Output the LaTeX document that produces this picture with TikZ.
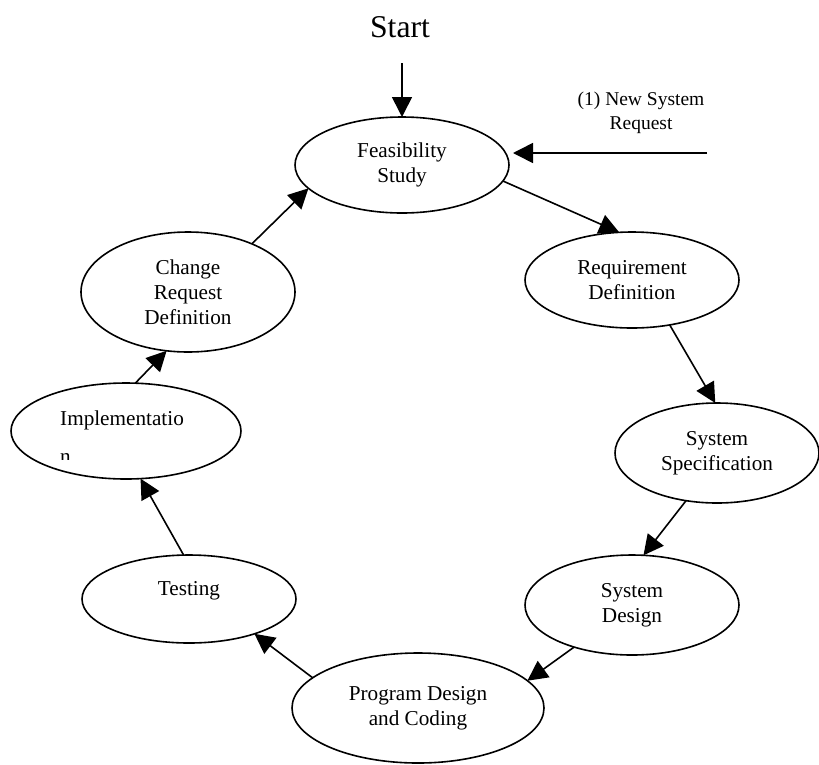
\documentclass[tikz,border=0pt]{standalone}
\usepackage{fontspec}
\setmainfont{Liberation Serif}
\usetikzlibrary{arrows.meta,shapes.geometric}
\tikzset{
  stage/.style={ellipse, draw, line width=1.6pt, inner sep=0pt, outer sep=0pt, align=center,
    font=\fontsize{21.2pt}{25pt}\selectfont},
  stagetext/.style={font=\fontsize{21.2pt}{25pt}\selectfont},
  conn/.style={line width=1.6pt, -{Triangle[length=20pt,width=20pt]}},
}
\begin{document}
\begin{tikzpicture}[x=1pt,y=-1pt]
\useasboundingbox (0,0) rectangle (819,764);
% stages
\node[stage, minimum width=214pt, minimum height=96pt] (feas) at (402,165) {Feasibility\\Study};
\node[stage, minimum width=214pt, minimum height=96pt] (req) at (632,280) {Requirement\\Definition};
\node[stage, minimum width=204pt, minimum height=100pt] (spec) at (717,453) {System\\Specification};
\node[stage, minimum width=214pt, minimum height=100pt] (design) at (632,605) {System\\Design};
\node[stage, minimum width=252pt, minimum height=110pt] (prog) at (418,708) {Program Design\\and Coding};
\node[stage, minimum width=214pt, minimum height=88pt] (test) at (189,599) {};
\node[stagetext, anchor=base] (testtxt) at (189,595) {Testing};
\node[stage, minimum width=230pt, minimum height=96pt] (impl) at (126,431) {};
\node[stagetext, anchor=base west, inner sep=0pt] (impltxt) at (60,425) {Implementatio};
\begin{scope}
  \clip (0,440) rectangle (300,459);
  \node[stagetext, anchor=base west, inner sep=0pt] (impln) at (60,463) {n};
\end{scope}
\node[stage, minimum width=214pt, minimum height=120pt] (change) at (188,292) {Change\\Request\\Definition};
% texts
\node[font=\fontsize{31.7pt}{38pt}\selectfont] (start) at (400,27) {Start};
\node[font=\fontsize{19.5pt}{24pt}\selectfont, align=center] (nsr) at (641,113) {(1) New System\\Request};
\coordinate (s1) at (402,63);
\coordinate (n1) at (707,153);
% connectors
\draw[conn] (s1) -- (feas.north);
\draw[conn] (n1) -- ([xshift=4pt]n1 -| feas.east);
\draw[conn] (feas.-9.8) -- (req.105.8);
\draw[conn] (req.-50.7) -- (spec.92);
\draw[conn] (spec.-123) -- (design.77.6);
\draw[conn] (design.-144.7) -- (prog.14.4);
\draw[conn] (prog.164.8) -- (test.-28.9);
\draw[conn] (test.97.6) -- (impl.-73.4);
\draw[conn] (impl.79.4) -- (change.-110.8);
\draw[conn] (change.37.6) -- (feas.-166.1);
\end{tikzpicture}
\end{document}
